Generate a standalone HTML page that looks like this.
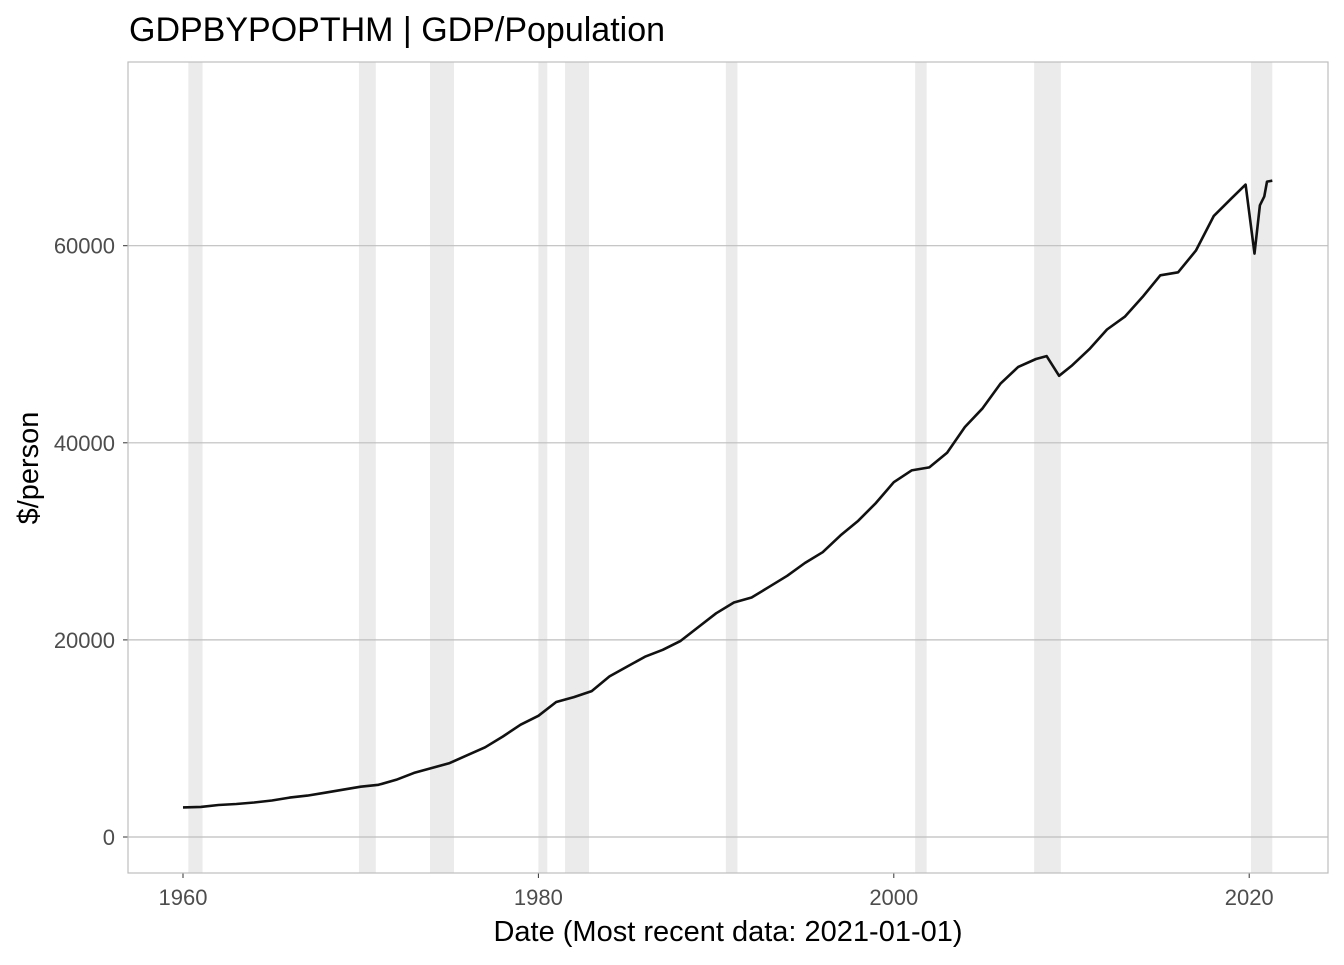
<!DOCTYPE html>
<html><head><meta charset="utf-8"><style>
body{margin:0;background:#fff;font-family:"Liberation Sans",Arial,sans-serif}
svg text{font-family:"Liberation Sans",Arial,sans-serif}
</style></head><body>
<svg id="c" width="1344" height="960"></svg>
<script>
const recStart=[1960.3,1969.9,1973.9,1980.0,1981.5,1990.55,2001.2,2007.9,2020.1];
const recEnd=[1961.1,1970.85,1975.25,1980.5,1982.85,1991.2,2001.85,2009.4,2021.3];
const years=[1960,1961,1962,1963,1964,1965,1966,1967,1968,1969,1970,1971,1972,1973,1974,1975,1976,1977,1978,1979,1980,1981,1982,1983,1984,1985,1986,1987,1988,1989,1990,1991,1992,1993,1994,1995,1996,1997,1998,1999,2000,2001,2002,2003,2004,2005,2006,2007,2008,2008.6,2009.3,2010,2011,2012,2013,2014,2015,2016,2017,2018,2019,2019.8,2020.3,2020.6,2020.85,2021.0,2021.3];
const values=[3000,3050,3250,3350,3500,3700,4000,4200,4500,4800,5100,5300,5800,6500,7000,7500,8300,9100,10200,11400,12300,13700,14200,14800,16300,17300,18300,19000,19900,21300,22700,23800,24300,25400,26500,27800,28900,30600,32100,33900,36000,37200,37500,39000,41600,43500,46000,47700,48500,48800,46800,47800,49500,51500,52800,54800,57000,57300,59500,63000,64800,66200,59200,64100,65000,66500,66600];
const yTicks=[0,20000,40000,60000];
const xTicks=[1960,1980,2000,2020];
const L=128,T=62,R=1328,B=873;
const X=y=>183+(y-1960)*17.77;
const Y=v=>837-v*0.009855;
const svg=document.getElementById('c');
const NS='http://www.w3.org/2000/svg';
function mk(t,a,p){const e=document.createElementNS(NS,t);for(const k in a)e.setAttribute(k,a[k]);(p||svg).appendChild(e);return e;}
for(let i=0;i<recStart.length;i++){
 const r=mk('rect',{x:X(recStart[i]),y:T,width:X(recEnd[i])-X(recStart[i]),height:B-T,fill:'#ebebeb'});
 
 
}
yTicks.forEach(v=>{
 const g=mk('line',{x1:L,x2:R,y1:Y(v),y2:Y(v),stroke:'#bebebe','stroke-width':1.2});
 
 
 mk('line',{x1:L-5,x2:L,y1:Y(v),y2:Y(v),stroke:'#333','stroke-width':1});
 const t=mk('text',{x:L-13,y:Y(v)+8,'text-anchor':'end','font-size':22,fill:'#4d4d4d'});t.textContent=v;
 
 
});
xTicks.forEach(v=>{
 mk('line',{x1:X(v),x2:X(v),y1:B,y2:B+5,stroke:'#333','stroke-width':1});
 const t=mk('text',{x:X(v),y:B+32,'text-anchor':'middle','font-size':22,fill:'#4d4d4d'});t.textContent=v;
 
 
});
const fr=mk('rect',{x:L,y:T,width:R-L,height:B-T,fill:'none',stroke:'#bebebe','stroke-width':1.2});


const p=mk('path',{d:years.map((y,i)=>(i?'L':'M')+X(y).toFixed(1)+','+Y(values[i]).toFixed(1)).join(''),fill:'none',stroke:'#111','stroke-width':2.6,'stroke-linejoin':'round'});


let t=mk('text',{x:129,y:41,'font-size':34,fill:'#000'});t.textContent='GDPBYPOPTHM | GDP/Population';


t=mk('text',{x:728,y:941,'text-anchor':'middle','font-size':29,fill:'#000'});t.textContent='Date (Most recent data: 2021-01-01)';


t=mk('text',{x:38,y:468,'text-anchor':'middle','font-size':29,fill:'#000',transform:'rotate(-90 38 468)'});t.textContent='$/person';


</script>
</body></html>
